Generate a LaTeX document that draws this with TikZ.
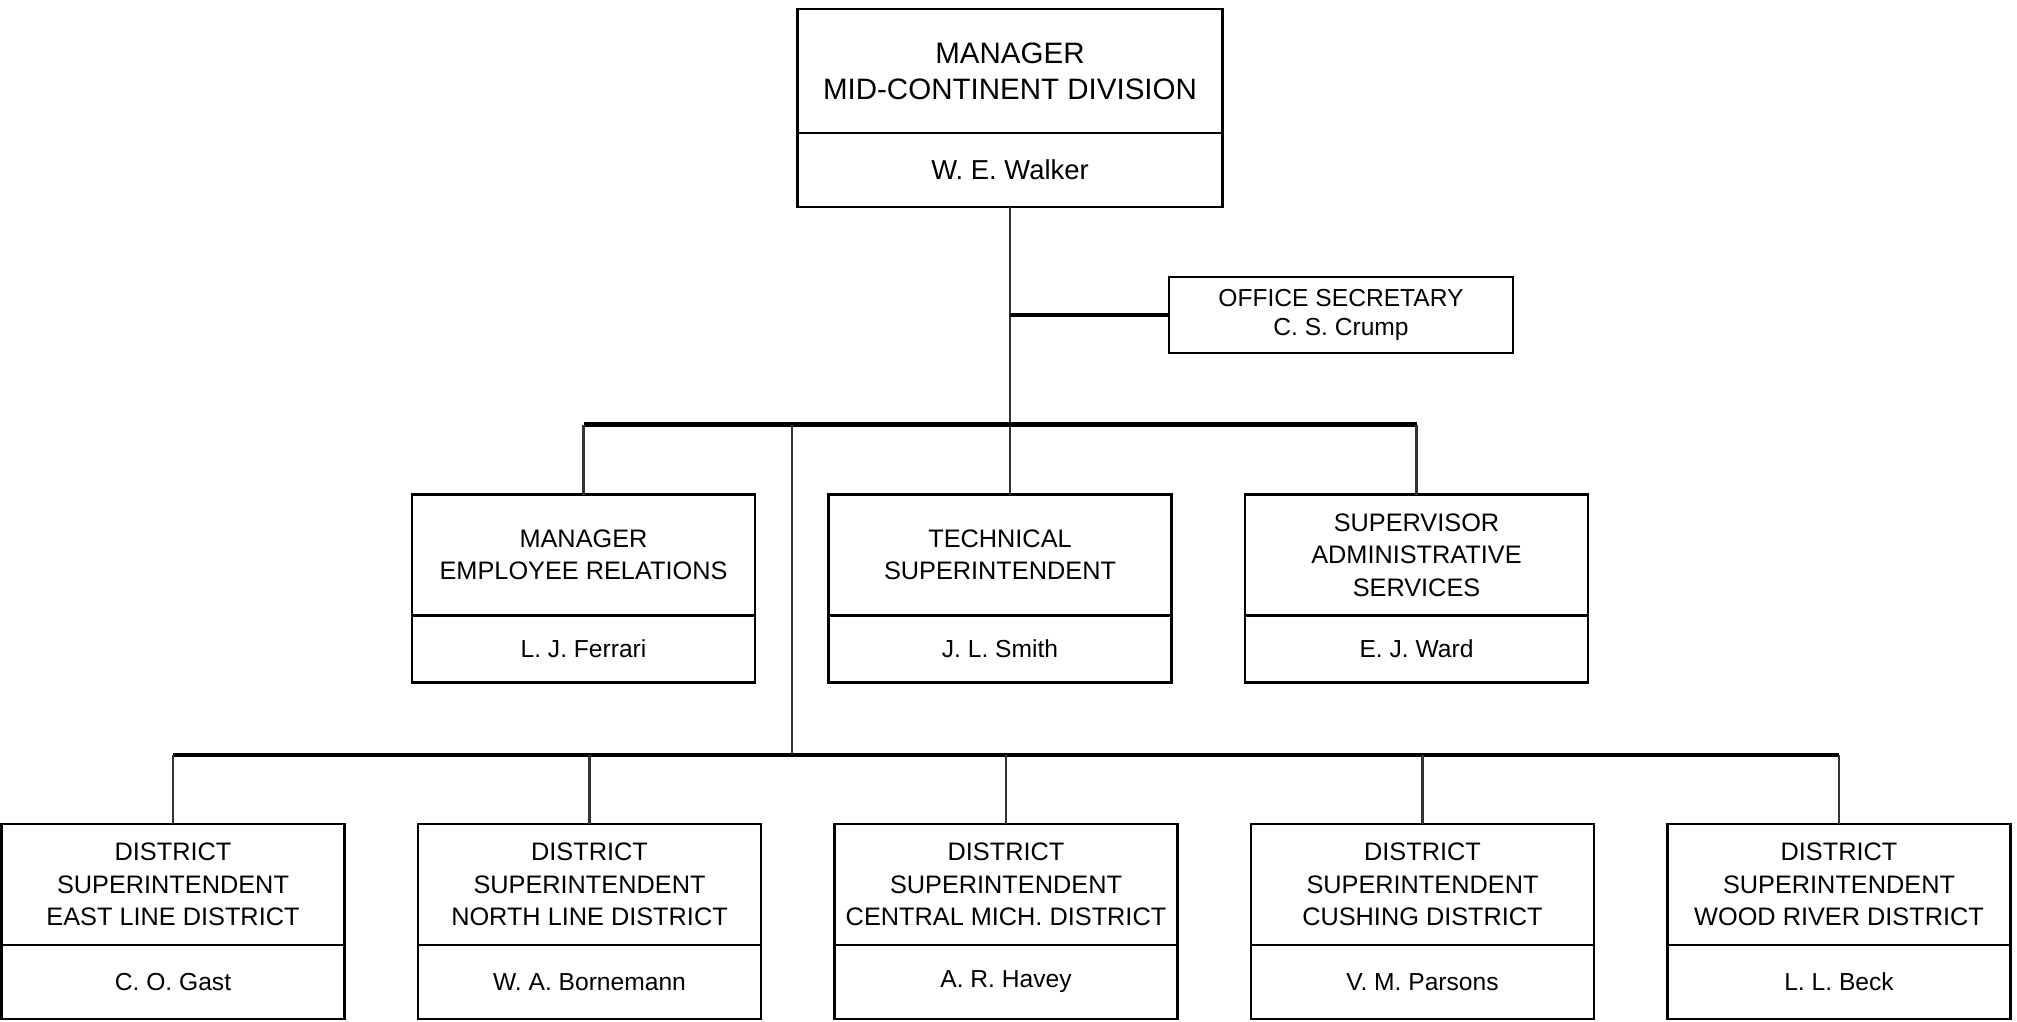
\documentclass[tikz,border=0pt]{standalone}
\usepackage{fontspec}
\setmainfont{Liberation Sans}
\usetikzlibrary{positioning}
\tikzset{
	node distance=4.165cm, % centre to centre spacing of the boxes in one row
	post/.style={draw, line width=0.6pt, outer sep=0pt, minimum width=3.43cm, minimum height=1.21cm, inner sep=0pt, align=center, font=\fontsize{7.2}{9.2}\selectfont}, % upper part of a box: the job
	holder/.style={draw, line width=0.6pt, outer sep=0pt, minimum width=3.43cm, minimum height=0.74cm, inner sep=0pt, font=\fontsize{7}{8.4}\selectfont}, % lower part of a box: the name
	bar/.style={line width=1.3pt}, % heavy horizontal lines
	drop/.style={line width=0.7pt, black!80}, % vertical lines
}

\begin{document}
\begin{tikzpicture}
	\useasboundingbox (0,0) rectangle (20.17,-10.21);

	% division manager and secretary
	\node[post, minimum width=4.25cm, minimum height=1.24cm, font=\fontsize{8.4}{10.3}\selectfont] (mgr) at (10.1,-0.71) {MANAGER\\MID-CONTINENT DIVISION};
	\node[holder, minimum width=4.25cm, font=\fontsize{7.8}{9}\selectfont] (mgrn) [below=0pt of mgr] {W. E. Walker};
	\node[post, minimum width=3.44cm, minimum height=0.76cm, font=\fontsize{7}{8}\selectfont] (sec) at (13.41,-3.15) {OFFICE SECRETARY\\C. S. Crump};

	% staff
	\node[post] (ts) at (10.0,-5.55) {TECHNICAL\\SUPERINTENDENT};
	\node[post] (er) [left of=ts] {MANAGER\\EMPLOYEE RELATIONS};
	\node[post] (sa) [right of=ts] {SUPERVISOR\\ADMINISTRATIVE\\SERVICES};
	\node[holder, minimum height=0.67cm] (ern) [below=0pt of er] {L. J. Ferrari};
	\node[holder, minimum height=0.67cm] (tsn) [below=0pt of ts] {J. L. Smith};
	\node[holder, minimum height=0.67cm] (san) [below=0pt of sa] {E. J. Ward};

	% districts
	\node[post] (cm) at (10.06,-8.845) {DISTRICT\\SUPERINTENDENT\\CENTRAL MICH. DISTRICT};
	\node[post] (nl) [left of=cm] {DISTRICT\\SUPERINTENDENT\\NORTH LINE DISTRICT};
	\node[post] (el) [left of=nl] {DISTRICT\\SUPERINTENDENT\\EAST LINE DISTRICT};
	\node[post] (cu) [right of=cm] {DISTRICT\\SUPERINTENDENT\\CUSHING DISTRICT};
	\node[post] (wr) [right of=cu] {DISTRICT\\SUPERINTENDENT\\WOOD RIVER DISTRICT};
	\node[holder] (eln) [below=0pt of el] {C. O. Gast};
	\node[holder] (nln) [below=0pt of nl] {W. A. Bornemann};
	\node[holder] (cmn) [below=0pt of cm] {A. R. Havey};
	\node[holder] (cun) [below=0pt of cu] {V. M. Parsons};
	\node[holder] (wrn) [below=0pt of wr] {L. L. Beck};

	\coordinate (j1) at (7.92,-4.245); % district line leaves the staff bar here
	\coordinate (j2) at (7.92,-7.55);

	\draw[drop] (mgrn.south) -- (mgrn.south |- ts.north);
	\draw[bar] (sec.west) -- (sec.west -| mgrn.south);
	\draw[bar] (j1 -| er.north) -- (j1 -| sa.north);
	\draw[drop] (j1 -| er.north) -- (er.north)
		(j1 -| sa.north) -- (sa.north)
		(j1) -- (j2);
	\draw[bar] (j2 -| el.north) -- (j2 -| wr.north);
	\draw[drop] (j2 -| el.north) -- (el.north)
		(j2 -| nl.north) -- (nl.north)
		(j2 -| cm.north) -- (cm.north)
		(j2 -| cu.north) -- (cu.north)
		(j2 -| wr.north) -- (wr.north);
\end{tikzpicture}
\end{document}
